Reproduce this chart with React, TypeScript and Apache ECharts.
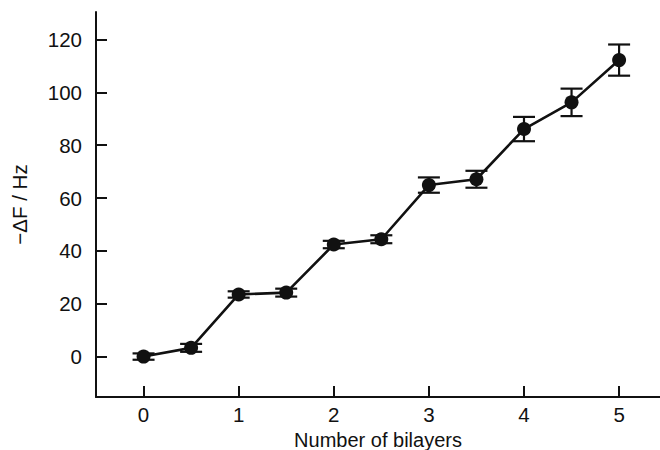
import React, { useEffect, useRef } from "react";
import * as echarts from "echarts";

const bilayers = [0, 0.5, 1, 1.5, 2, 2.5, 3, 3.5, 4, 4.5, 5];
const deltaF = [0, 3.3, 23.5, 24.2, 42.4, 44.4, 64.9, 67.1, 86.1, 96.2, 112.2];
const errors = [1.2, 1.5, 1.2, 1.5, 1.4, 1.5, 2.9, 3.2, 4.6, 5.2, 5.9];
const xTicks = [0, 1, 2, 3, 4, 5];
const yTicks = [0, 20, 40, 60, 80, 100, 120];

const FONT = "'Liberation Sans', Arial, sans-serif";
const INK = "#111";

export default function App() {
  const ref = useRef<HTMLDivElement>(null);
  useEffect(() => {
    if (!ref.current) return;
    const chart = echarts.init(ref.current, null, { renderer: "svg" });
    const points = bilayers.map((x, i) => [x, deltaF[i]]);
    const errData = bilayers.map((x, i) => [x, deltaF[i] - errors[i], deltaF[i] + errors[i]]);
    chart.setOption({
      animation: false,
      grid: { left: 96, top: 12, right: 0, bottom: 53, containLabel: false, outerBoundsMode: "none" },
      xAxis: {
        type: "value",
        min: -0.5,
        max: 5.43,
        name: "Number of bilayers",
        nameLocation: "middle",
        nameGap: 24,
        nameTextStyle: { fontFamily: FONT, fontSize: 20, lineHeight: 20, color: INK },
        splitLine: { show: false },
        axisLine: { show: true, onZero: false, lineStyle: { color: INK, width: 2 } },
        axisTick: { show: true, inside: true, length: 11, customValues: xTicks, lineStyle: { color: INK, width: 2 } },
        axisLabel: { customValues: xTicks, margin: 7, fontFamily: FONT, fontSize: 20.5, color: INK },
      },
      yAxis: {
        type: "value",
        min: -15.3,
        max: 130.4,
        name: "\u2212\u0394F / Hz",
        nameLocation: "middle",
        nameGap: 66,
        nameRotate: 90,
        nameTextStyle: { fontFamily: FONT, fontSize: 20.5, color: INK },
        splitLine: { show: false },
        axisLine: { show: true, onZero: false, lineStyle: { color: INK, width: 2 } },
        axisTick: { show: true, inside: true, length: 11, customValues: yTicks, lineStyle: { color: INK, width: 2 } },
        axisLabel: { customValues: yTicks, margin: 14, fontFamily: FONT, fontSize: 20.5, color: INK },
      },
      series: [
        {
          type: "custom",
          data: errData,
          z: 3,
          renderItem: (params: any, api: any) => {
            const x = api.value(0);
            const lo = api.coord([x, api.value(1)]);
            const hi = api.coord([x, api.value(2)]);
            const hw = 11;
            const style = { stroke: INK, lineWidth: 2.2 };
            return {
              type: "group",
              children: [
                { type: "line", shape: { x1: lo[0], y1: lo[1], x2: hi[0], y2: hi[1] }, style },
                { type: "line", shape: { x1: lo[0] - hw, y1: lo[1], x2: lo[0] + hw, y2: lo[1] }, style },
                { type: "line", shape: { x1: hi[0] - hw, y1: hi[1], x2: hi[0] + hw, y2: hi[1] }, style },
              ],
            };
          },
        },
        {
          type: "line",
          data: points,
          z: 4,
          symbol: "circle",
          symbolSize: 14,
          itemStyle: { color: INK },
          lineStyle: { color: INK, width: 2.6 },
        },
      ],
    });
    return () => chart.dispose();
  }, []);
  return <div ref={ref} style={{ width: 660, height: 450, position: "absolute", left: 0, top: 0 }} />;
}
